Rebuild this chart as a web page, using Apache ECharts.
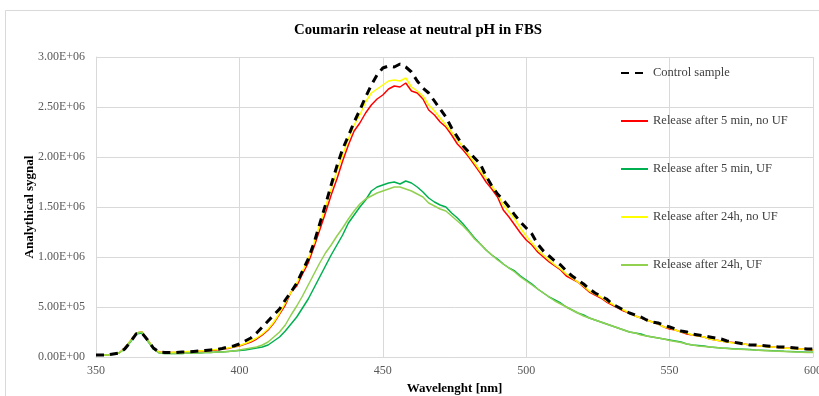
<!DOCTYPE html>
<html>
<head>
<meta charset="utf-8">
<script src="https://cdn.jsdelivr.net/npm/echarts@6/dist/echarts.min.js"></script>
<style>html,body{margin:0;padding:0;background:#fff;}#c{width:819px;height:396px;}</style>
</head>
<body>
<div id="c"></div>
<script>
// Wavelengths [nm], 2 nm step
const wavelengths = [];
for (let w = 350; w <= 600; w += 2) wavelengths.push(w);

const seriesNames = ["Control sample", "Release after 5 min, no UF", "Release after 5 min, UF", "Release after 24h, no UF", "Release after 24h, UF"];

const xTicks = [350, 400, 450, 500, 550, 600];
const yTicks = [0, 5e5, 1e6, 1.5e6, 2e6, 2.5e6, 3e6];

// Values in units of 1E+06
const control = [0.02,0.02,0.02,0.03,0.04,0.08,0.15,0.23,0.24,0.17,0.09,0.05,0.045,0.045,0.045,0.05,0.05,0.055,0.06,0.065,0.07,0.075,0.085,0.10,0.11,0.13,0.16,0.19,0.24,0.30,0.36,0.42,0.48,0.57,0.65,0.74,0.86,0.98,1.14,1.33,1.52,1.72,1.91,2.08,2.21,2.35,2.47,2.60,2.72,2.82,2.89,2.91,2.90,2.93,2.90,2.85,2.76,2.69,2.64,2.56,2.48,2.40,2.29,2.20,2.11,2.05,1.99,1.93,1.81,1.71,1.63,1.57,1.50,1.42,1.35,1.29,1.23,1.13,1.06,1.01,0.96,0.92,0.86,0.81,0.77,0.73,0.68,0.64,0.61,0.58,0.53,0.50,0.47,0.44,0.42,0.40,0.37,0.35,0.34,0.32,0.30,0.28,0.26,0.25,0.23,0.22,0.21,0.20,0.19,0.18,0.16,0.15,0.14,0.13,0.12,0.12,0.115,0.11,0.105,0.10,0.10,0.095,0.09,0.085,0.08,0.08];
const min5NoUF = [0.02,0.02,0.02,0.03,0.04,0.09,0.16,0.24,0.25,0.17,0.09,0.05,0.045,0.045,0.045,0.05,0.05,0.055,0.06,0.06,0.065,0.07,0.08,0.085,0.10,0.11,0.13,0.15,0.18,0.22,0.27,0.34,0.43,0.52,0.65,0.71,0.83,0.94,1.10,1.27,1.44,1.62,1.78,1.96,2.12,2.26,2.34,2.44,2.52,2.58,2.62,2.68,2.71,2.70,2.74,2.66,2.64,2.58,2.47,2.42,2.35,2.30,2.22,2.13,2.07,2.00,1.92,1.84,1.75,1.68,1.60,1.47,1.40,1.32,1.24,1.17,1.12,1.05,1.00,0.95,0.91,0.87,0.81,0.78,0.75,0.70,0.65,0.62,0.59,0.55,0.52,0.49,0.46,0.44,0.41,0.39,0.37,0.35,0.33,0.30,0.28,0.27,0.25,0.23,0.22,0.21,0.20,0.18,0.17,0.16,0.15,0.145,0.14,0.13,0.12,0.115,0.11,0.105,0.10,0.095,0.09,0.088,0.085,0.08,0.075,0.07];
const min5UF = [0.02,0.02,0.02,0.03,0.04,0.08,0.15,0.23,0.24,0.16,0.08,0.04,0.035,0.035,0.035,0.035,0.04,0.04,0.04,0.045,0.045,0.05,0.05,0.055,0.06,0.065,0.07,0.08,0.09,0.10,0.12,0.16,0.20,0.26,0.33,0.40,0.49,0.58,0.69,0.80,0.91,1.02,1.12,1.22,1.34,1.42,1.50,1.57,1.66,1.70,1.72,1.74,1.75,1.73,1.76,1.74,1.70,1.65,1.59,1.55,1.52,1.50,1.44,1.39,1.33,1.26,1.19,1.13,1.07,1.02,0.98,0.93,0.89,0.86,0.81,0.77,0.73,0.68,0.64,0.60,0.57,0.54,0.50,0.47,0.44,0.42,0.39,0.37,0.35,0.33,0.31,0.29,0.27,0.25,0.24,0.23,0.21,0.20,0.19,0.18,0.17,0.16,0.15,0.13,0.12,0.115,0.11,0.10,0.095,0.09,0.087,0.083,0.08,0.077,0.074,0.07,0.068,0.065,0.062,0.06,0.057,0.055,0.052,0.05,0.048,0.047];
const h24NoUF = [0.02,0.02,0.02,0.03,0.04,0.09,0.16,0.24,0.25,0.17,0.09,0.05,0.045,0.045,0.05,0.05,0.055,0.055,0.06,0.065,0.07,0.075,0.08,0.09,0.10,0.115,0.135,0.16,0.19,0.23,0.28,0.35,0.44,0.54,0.65,0.74,0.86,0.98,1.14,1.32,1.50,1.68,1.86,2.02,2.18,2.32,2.42,2.55,2.64,2.68,2.72,2.76,2.77,2.76,2.79,2.70,2.66,2.61,2.52,2.46,2.39,2.32,2.25,2.17,2.10,2.02,1.94,1.86,1.79,1.71,1.63,1.52,1.45,1.38,1.29,1.21,1.14,1.07,1.02,0.97,0.92,0.88,0.83,0.79,0.75,0.71,0.66,0.63,0.60,0.56,0.53,0.49,0.47,0.44,0.41,0.39,0.37,0.35,0.33,0.30,0.29,0.27,0.25,0.24,0.22,0.21,0.20,0.18,0.17,0.16,0.15,0.14,0.14,0.13,0.12,0.115,0.11,0.10,0.10,0.095,0.09,0.085,0.08,0.08,0.075,0.07];
const h24UF = [0.02,0.02,0.02,0.03,0.04,0.08,0.16,0.24,0.25,0.17,0.08,0.04,0.035,0.035,0.035,0.035,0.04,0.04,0.04,0.045,0.045,0.05,0.05,0.055,0.06,0.07,0.08,0.09,0.10,0.12,0.15,0.20,0.25,0.32,0.42,0.51,0.61,0.72,0.83,0.94,1.04,1.12,1.21,1.29,1.38,1.46,1.53,1.58,1.61,1.64,1.66,1.68,1.70,1.70,1.68,1.66,1.63,1.60,1.54,1.51,1.48,1.46,1.41,1.36,1.31,1.25,1.18,1.13,1.07,1.02,0.97,0.93,0.89,0.85,0.80,0.76,0.72,0.68,0.64,0.60,0.56,0.53,0.50,0.47,0.44,0.41,0.39,0.37,0.35,0.33,0.31,0.29,0.27,0.25,0.24,0.22,0.21,0.20,0.19,0.18,0.165,0.155,0.145,0.13,0.12,0.11,0.105,0.10,0.095,0.09,0.085,0.08,0.078,0.075,0.072,0.07,0.066,0.063,0.06,0.058,0.056,0.053,0.05,0.048,0.046,0.045];

const seriesValues = [control, min5NoUF, min5UF, h24NoUF, h24UF];
const seriesColors = ["#000000", "#FF0000", "#00B050", "#FFFF00", "#92D050"];

const serif = '"Liberation Serif", "Times New Roman", serif';

function fmtExp(v) {
  let s = Number(v).toExponential(2).toUpperCase();
  return s.replace(/E([+-])(\d)$/, 'E$10$2');
}

const chart = echarts.init(document.getElementById('c'), null, {renderer: 'canvas'});
const series = seriesNames.map((name, i) => ({
  name: name,
  type: 'line',
  showSymbol: false,
  symbol: 'none',
  smooth: false,
  data: wavelengths.map((w, k) => [w, seriesValues[i][k] * 1e6]),
  lineStyle: i === 0
    ? {color: seriesColors[i], width: 3, type: [8, 6]}
    : {color: seriesColors[i], width: 1.5},
  itemStyle: {color: seriesColors[i]},
  z: i === 0 ? 5 : 2,
  animation: false
}));

chart.setOption({
  animation: false,
  backgroundColor: '#fff',
  title: {
    text: 'Coumarin release at neutral pH in FBS',
    left: 413, top: 18, textAlign: 'center',
    textStyle: {fontFamily: serif, fontSize: 14.8, fontWeight: 'bold', color: '#000'}
  },
  graphic: [{
    type: 'rect', shape: {x: 5.5, y: 10.5, width: 830, height: 400},
    style: {fill: 'none', stroke: '#d9d9d9', lineWidth: 1}, z: -1
  }],
  legend: {
    orient: 'vertical', left: 620, top: 66, itemGap: 34, padding: 0,
    itemWidth: 27, itemHeight: 14,
    itemStyle: {opacity: 0},
    textStyle: {fontFamily: serif, fontSize: 12.5, lineHeight: 14, color: '#404040'},
    data: seriesNames
  },
  grid: {left: 96, right: 6, top: 57, bottom: 39, containLabel: false, outerBoundsMode: 'none'},
  xAxis: {
    type: 'value', min: xTicks[0], max: xTicks[xTicks.length - 1], interval: 50,
    name: 'Wavelenght [nm]', nameLocation: 'middle', nameGap: 25, nameMoveOverlap: false,
    nameTextStyle: {fontFamily: serif, fontSize: 13, fontWeight: 'bold', color: '#000'},
    axisLine: {show: true, lineStyle: {color: '#d9d9d9'}},
    axisTick: {show: false},
    axisLabel: {fontFamily: serif, fontSize: 12, color: '#595959', margin: 8},
    splitLine: {show: true, lineStyle: {color: '#d9d9d9', width: 1}}
  },
  yAxis: {
    type: 'value', min: yTicks[0], max: yTicks[yTicks.length - 1], interval: 5e5,
    name: 'Analythical sygnal', nameLocation: 'middle', nameGap: 60, nameRotate: 90, nameMoveOverlap: false,
    nameTextStyle: {fontFamily: serif, fontSize: 13, fontWeight: 'bold', color: '#000'},
    axisLine: {show: true, lineStyle: {color: '#d9d9d9'}},
    axisTick: {show: false},
    axisLabel: {fontFamily: serif, fontSize: 12, color: '#595959', margin: 11, formatter: fmtExp},
    splitLine: {show: true, lineStyle: {color: '#d9d9d9', width: 1}}
  },
  series: series
});
</script>
</body>
</html>
